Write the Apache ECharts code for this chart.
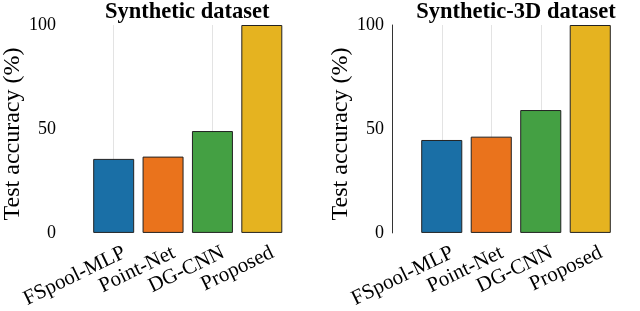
<!DOCTYPE html>
<html><head><meta charset="utf-8">
<script src="https://cdn.jsdelivr.net/npm/echarts@6/dist/echarts.min.js"></script>
<style>html,body{margin:0;padding:0;background:#fff}#c{width:640px;height:311px}</style>
</head><body><div id="c"></div>
<script>
const categories = ['FSpool-MLP', 'Point-Net', 'DG-CNN', 'Proposed'];
const syntheticValues = [35.6, 36.7, 49.0, 100];
const synthetic3dValues = [44.7, 46.3, 59.1, 100];
const barColors = ['#1a6fa6', '#ea731c', '#44a043', '#e5b320'];
const yTicks = [0, 50, 100];
const titles = ['Synthetic dataset', 'Synthetic-3D dataset'];
const yName = 'Test accuracy (%)';

const FONT = '"Liberation Serif", "Times New Roman", serif';
const chart = echarts.init(document.getElementById('c'), null, {renderer: 'canvas'});

const grids = [
  {left: 88, top: 25, width: 198.5, height: 208},
  {left: 417, top: 25, width: 198, height: 208}
];
const gridLinesShown = [[0, 2], [0, 1, 2]];

function mkData(vals) {
  return vals.map((v, i) => ({value: v, itemStyle: {color: barColors[i]}}));
}

const option = {
  animation: false,
  backgroundColor: '#fff',
  title: titles.map((t, i) => ({
    text: t,
    left: grids[i].left + grids[i].width / 2 - 5,
    top: -4,
    textAlign: 'center',
    textStyle: {fontFamily: FONT, fontWeight: 'bold', fontSize: 22.5, color: '#000'}
  })),
  grid: grids,
  xAxis: grids.map((g, i) => ({
    type: 'category',
    gridIndex: i,
    data: categories,
    axisLine: {show: false},
    axisTick: {show: false},
    axisLabel: {rotate: 26, fontFamily: FONT, fontSize: 21, color: '#000', margin: 24, interval: 0,
      padding: [0, -12, 0, 0]},
    splitLine: {
      show: true,
      alignWithLabel: true,
      interval: (idx) => gridLinesShown[i].indexOf(idx) >= 0,
      lineStyle: {color: '#e3e3e3', width: 1}
    }
  })),
  yAxis: grids.map((g, i) => ({
    type: 'value',
    gridIndex: i,
    min: 0, max: 100, interval: 50,
    offset: 25,
    name: yName,
    nameLocation: 'middle',
    nameGap: 39,
    nameTextStyle: {fontFamily: FONT, fontSize: 24, color: '#000', padding: [0, 10, 0, 0]},
    axisLine: {show: i === 1, lineStyle: {color: '#333', width: 1}},
    axisTick: {show: false},
    axisLabel: {fontFamily: FONT, fontSize: 18, color: '#000', margin: 8,
      formatter: (v) => yTicks.indexOf(v) >= 0 ? String(v) : ''},
    splitLine: {show: false}
  })),
  series: [syntheticValues, synthetic3dValues].map((vals, i) => ({
    type: 'bar',
    xAxisIndex: i,
    yAxisIndex: i,
    data: mkData(vals),
    barCategoryGap: '17%',
    itemStyle: {borderColor: '#222', borderWidth: 1}
  }))
};
chart.setOption(option);
</script></body></html>
